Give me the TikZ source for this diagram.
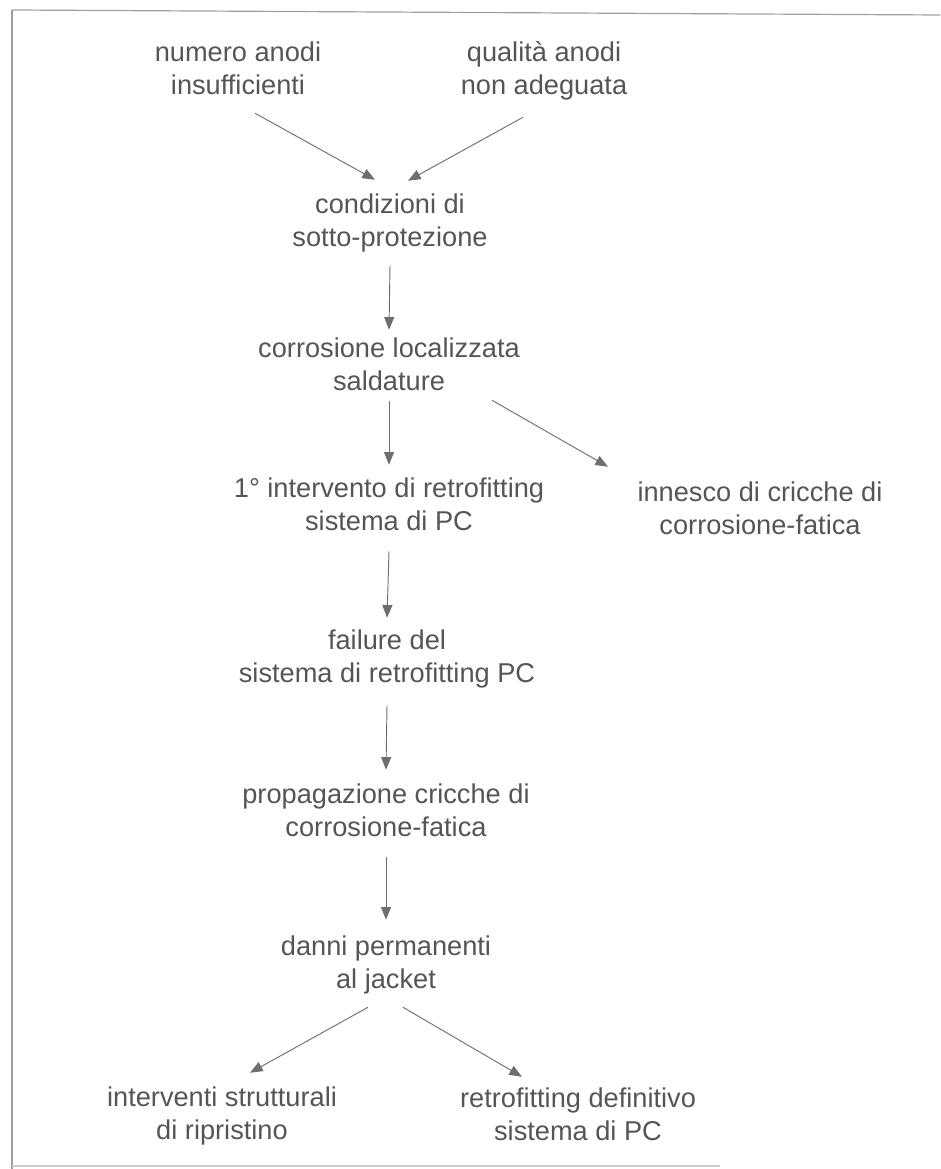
\documentclass[tikz,border=0pt]{standalone}
\usepackage{fontspec}
\setmainfont{Liberation Sans}
\usetikzlibrary{arrows.meta}
\definecolor{txt}{HTML}{555555}
\definecolor{ln}{HTML}{6E6E6E}
\begin{document}
\begin{tikzpicture}[x=0.75pt,y=-0.75pt,
  lbl/.style={align=center, inner sep=0pt, text=txt, font=\fontsize{20.4pt}{24.75pt}\selectfont},
  arr/.style={draw=ln, line width=0.7pt, -{Triangle[length=9.5pt,width=7.5pt]}},
  frameline/.style={draw=gray!75, line width=0.9pt}]
\useasboundingbox (0,0) rectangle (940,1169);
% frame
\coordinate (ftl) at (12,10);
\coordinate (ftr) at (940,15);
\coordinate (fbl) at (12,1169);
\coordinate (fbm) at (12,1166);
\coordinate (fbr) at (720,1166);
\draw[frameline] (ftl) -- (ftr);
\draw[frameline] (ftl) -- (fbl);
\draw[draw=gray!40, line width=0.8pt] (fbm) -- (fbr);
% nodes
\node[lbl] (A) at (238,71.5) {\strut numero anodi\\\strut insufficienti};
\node[lbl] (B) at (544,71.5) {\strut qualità anodi\\\strut non adeguata};
\node[lbl] (C) at (390,223) {\strut condizioni di\\\strut sotto-protezione};
\node[lbl] (D) at (389,367) {\strut corrosione localizzata\\\strut saldature};
\node[lbl] (E) at (389,507.5) {\strut 1° intervento di retrofitting\\\strut sistema di PC};
\node[lbl] (F) at (760,511) {\strut innesco di cricche di\\\strut corrosione-fatica};
\node[lbl] (G) at (387,659.5) {\strut failure del\\\strut sistema di retrofitting PC};
\node[lbl] (H) at (386,813.5) {\strut propagazione cricche di\\\strut corrosione-fatica};
\node[lbl] (I) at (386,965) {\strut danni permanenti\\\strut al jacket};
\node[lbl] (J) at (222,1116.5) {\strut interventi strutturali\\\strut di ripristino};
\node[lbl] (K) at (578,1117) {\strut retrofitting definitivo\\\strut sistema di PC};
% connectors
\draw[arr] ([shift={(17,8.5)}]A.south) -- ([shift={(-15,-10)}]C.north);
\draw[arr] ([shift={(-21,12.5)}]B.south) -- ([shift={(18,-9)}]C.north);
\draw[arr] ([shift={(0,9)}]C.south) -- ([shift={(0,-4)}]D.north);
\draw[arr] ([shift={(0,1)}]D.south) -- ([shift={(0,-9.5)}]E.north);
\draw[arr] ([shift={(103,0)}]D.south) -- ([shift={(-152,-11)}]F.north);
\draw[arr] ([shift={(0,10.5)}]E.south) -- ([shift={(0,-8.5)}]G.north);
\draw[arr] ([shift={(0,12.5)}]G.south) -- ([shift={(0,-10.5)}]H.north);
\draw[arr] ([shift={(0,10.5)}]H.south) -- ([shift={(0,-12)}]I.north);
\draw[arr] ([shift={(-18,9)}]I.south) -- ([shift={(28,-10.5)}]J.north);
\draw[arr] ([shift={(17,9)}]I.south) -- ([shift={(-56,-7)}]K.north);
\end{tikzpicture}
\end{document}
